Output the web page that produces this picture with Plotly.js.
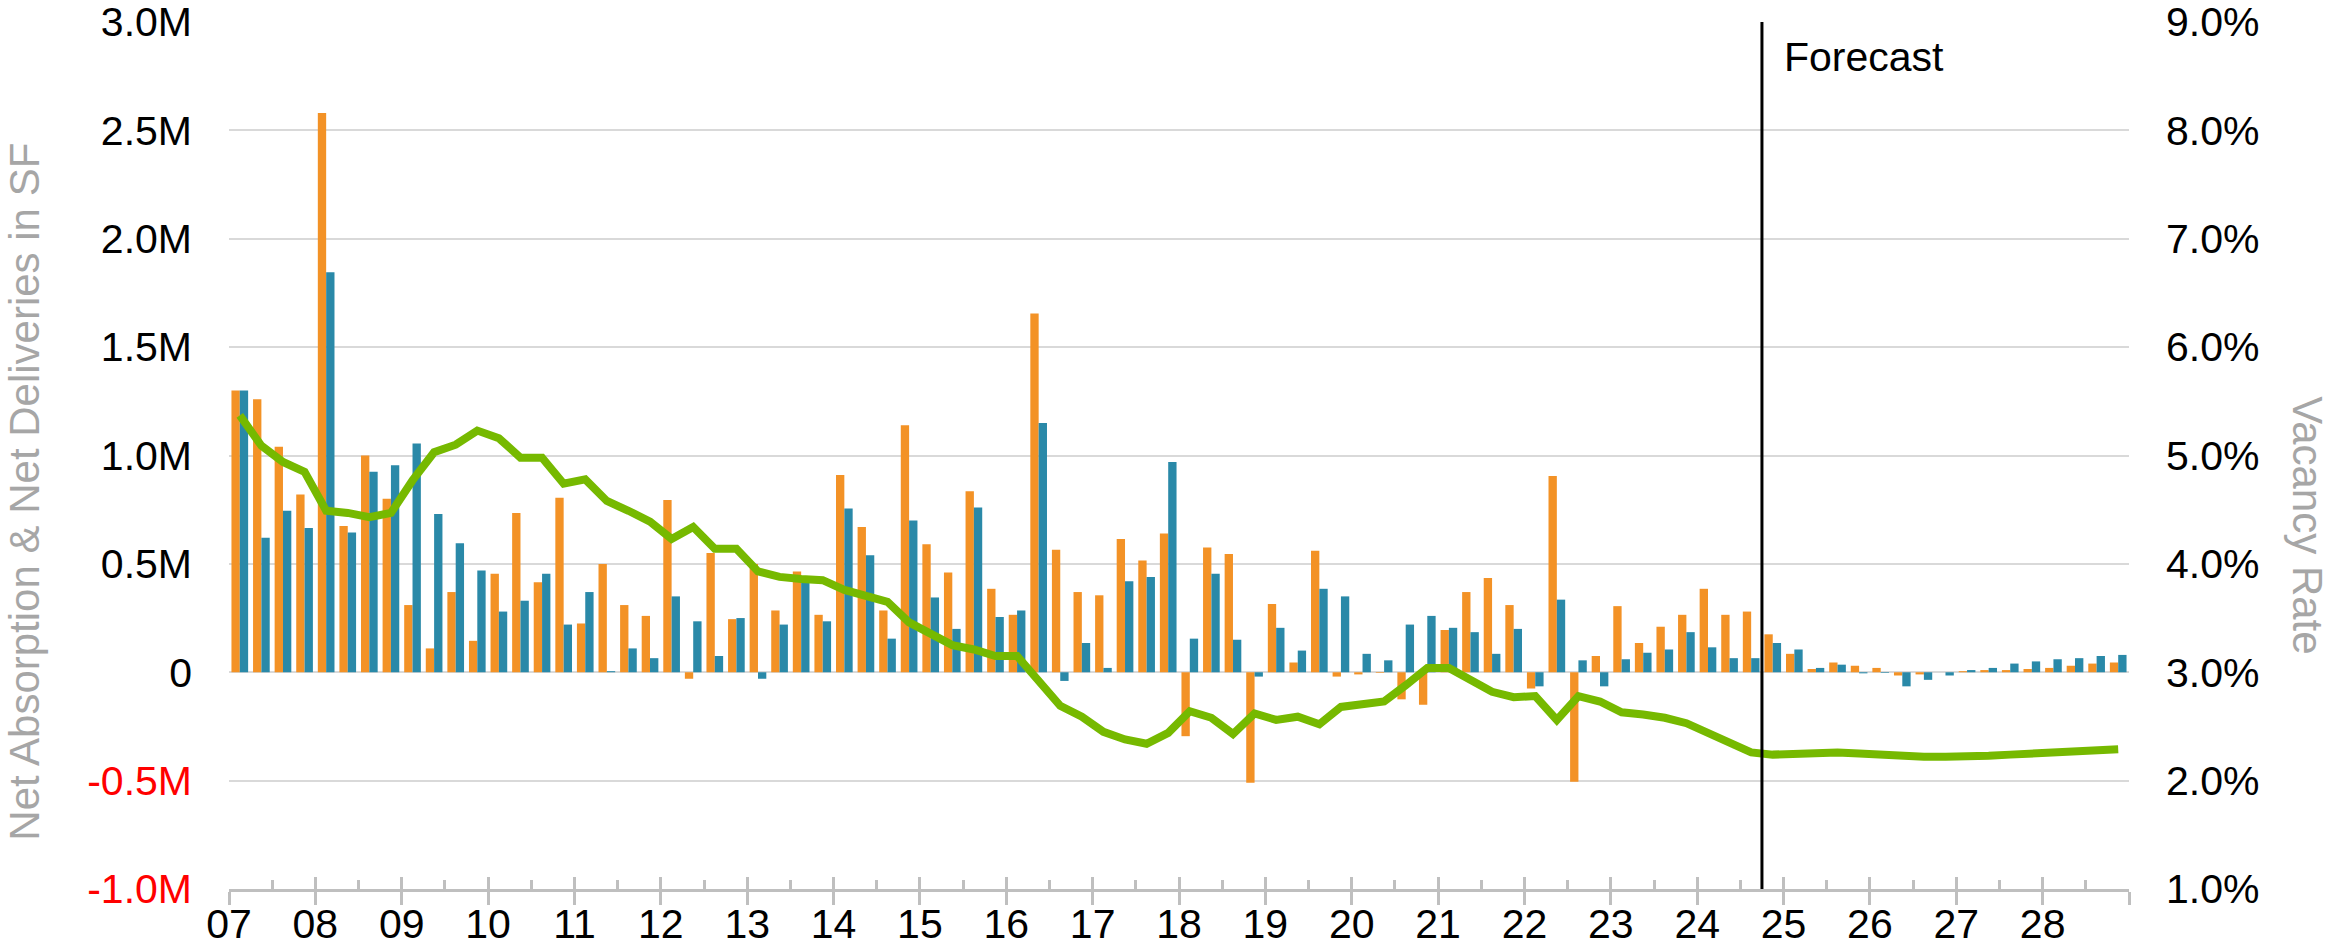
<!DOCTYPE html>
<html>
<head>
<meta charset="utf-8">
<script src="https://cdn.plot.ly/plotly-3.0.1.min.js"></script>
<style>
  html, body { margin: 0; padding: 0; background: #ffffff; }
  #chart { width: 2335px; height: 947px; }
</style>
</head>
<body>
<div id="chart"></div>
<script>
// ---- Data ----
const years = ['07','08','09','10','11','12','13','14','15','16','17','18','19','20','21','22','23','24','25','26','27','28'];
const quarterNames = ['Q1','Q2','Q3','Q4'];
const categories = years.flatMap(y => quarterNames.map(q => y + ' ' + q));
const forecastStart = '24 Q4';

// Net absorption (millions SF) - orange
const netAbsorption = [
  1.30, 1.26, 1.04, 0.82,
  2.58, 0.675, 1.00, 0.80,
  0.31, 0.11, 0.37, 0.145,
  0.455, 0.735, 0.415, 0.805,
  0.225, 0.50, 0.31, 0.26,
  0.795, -0.03, 0.55, 0.245,
  0.50, 0.285, 0.465, 0.265,
  0.91, 0.67, 0.285, 1.14,
  0.59, 0.46, 0.835, 0.385,
  0.265, 1.655, 0.565, 0.37,
  0.355, 0.615, 0.515, 0.64,
  -0.295, 0.575, 0.545, -0.51,
  0.315, 0.045, 0.56, -0.02,
  -0.01, -0.003, -0.125, -0.15,
  0.195, 0.37, 0.435, 0.31,
  -0.075, 0.905, -0.505, 0.075,
  0.305, 0.135, 0.21, 0.265,
  0.385, 0.265, 0.28, 0.175,
  0.085, 0.015, 0.045, 0.03,
  0.02, -0.015, -0.01, 0.0,
  0.005, 0.01, 0.01, 0.015,
  0.02, 0.03, 0.04, 0.045
];

// Net deliveries (millions SF) - blue
const netDeliveries = [
  1.30, 0.62, 0.745, 0.665,
  1.845, 0.645, 0.925, 0.955,
  1.055, 0.73, 0.595, 0.47,
  0.28, 0.33, 0.455, 0.22,
  0.37, 0.005, 0.11, 0.065,
  0.35, 0.235, 0.075, 0.25,
  -0.03, 0.22, 0.43, 0.235,
  0.755, 0.54, 0.155, 0.70,
  0.345, 0.20, 0.76, 0.255,
  0.285, 1.15, -0.04, 0.135,
  0.02, 0.42, 0.44, 0.97,
  0.155, 0.455, 0.15, -0.02,
  0.205, 0.10, 0.385, 0.35,
  0.085, 0.055, 0.22, 0.26,
  0.205, 0.185, 0.085, 0.20,
  -0.065, 0.335, 0.055, -0.065,
  0.06, 0.09, 0.105, 0.185,
  0.115, 0.065, 0.065, 0.135,
  0.105, 0.02, 0.035, -0.005,
  -0.003, -0.065, -0.035, -0.015,
  0.01, 0.02, 0.04, 0.05,
  0.06, 0.065, 0.075, 0.08
];

// Vacancy rate (%) - green line
const vacancyRate = [
  5.37, 5.09, 4.94, 4.85,
  4.49, 4.47, 4.43, 4.47,
  4.77, 5.03, 5.10, 5.23,
  5.16, 4.98, 4.98, 4.74,
  4.78, 4.58, 4.49, 4.39,
  4.23, 4.34, 4.14, 4.14,
  3.93, 3.88, 3.86, 3.85,
  3.76, 3.71, 3.65, 3.46,
  3.35, 3.25, 3.21, 3.15,
  3.15, 2.93, 2.69, 2.59,
  2.45, 2.38, 2.34, 2.44,
  2.64, 2.58, 2.43, 2.62,
  2.56, 2.59, 2.52, 2.68,
  2.71, 2.73, 2.88, 3.04,
  3.04, 2.94, 2.82, 2.77,
  2.78, 2.56, 2.78, 2.73,
  2.63, 2.61, 2.58, 2.53,
  2.44, 2.35, 2.26, 2.24,
  2.25, 2.26, 2.26, 2.25,
  2.24, 2.22, 2.22, 2.22,
  2.22, 2.23, 2.24, 2.25,
  2.26, 2.27, 2.28, 2.29
];

const leftTickVals = [-1, -0.5, 0, 0.5, 1, 1.5, 2, 2.5, 3];
const leftTickText = ['-1.0M', '-0.5M', '0', '0.5M', '1.0M', '1.5M', '2.0M', '2.5M', '3.0M'];
const rightTickVals = [1, 2, 3, 4, 5, 6, 7, 8, 9];
const rightTickText = ['1.0%', '2.0%', '3.0%', '4.0%', '5.0%', '6.0%', '7.0%', '8.0%', '9.0%'];

// ---- Build ----
const xIdx = categories.map((_, i) => i);
const nCat = categories.length;
const yearBoundaries = [];
for (let i = 0; i <= nCat; i += 4) yearBoundaries.push(i - 0.5);
const yearLabels = years.concat(['']);
const halfYearTicks = [];
for (let i = 2; i < nCat; i += 4) halfYearTicks.push(i - 0.5);
const forecastX = categories.indexOf(forecastStart) - 0.5;

const FONT = 'Liberation Sans, Arial, Helvetica, sans-serif';
const AXIS_GRAY = '#BFBFBF';

const traces = [
  {
    type: 'bar', name: 'Net Absorption', x: xIdx, y: netAbsorption,
    customdata: categories, hovertemplate: '%{customdata}: %{y}M<extra></extra>',
    textposition: 'none',
    marker: { color: '#F39226', line: { width: 0 } },
    xaxis: 'x', yaxis: 'y'
  },
  {
    type: 'bar', name: 'Net Deliveries', x: xIdx, y: netDeliveries,
    customdata: categories, hovertemplate: '%{customdata}: %{y}M<extra></extra>',
    textposition: 'none',
    marker: { color: '#2A89A8', line: { width: 0 } },
    xaxis: 'x', yaxis: 'y'
  },
  {
    type: 'scatter', mode: 'lines', name: 'Vacancy Rate', x: xIdx, y: vacancyRate,
    line: { color: '#76B900', width: 8, shape: 'linear' },
    xaxis: 'x2', yaxis: 'y2'
  }
];

const layout = {
  width: 2335, height: 947,
  margin: { l: 229, r: 206, t: 22, b: 58, pad: 0 },
  paper_bgcolor: '#ffffff', plot_bgcolor: '#ffffff',
  font: { family: FONT, size: 41, color: '#000000' },
  barmode: 'group', bargap: 0.228, bargroupgap: 0,
  showlegend: false,
  xaxis: {
    range: [-0.5, nCat - 0.5],
    tickmode: 'array', tickvals: yearBoundaries, ticktext: yearLabels,
    ticklabelshift: 10.8, ticklabelstandoff: -16, ticklabeloverflow: 'allow',
    ticks: 'outside', ticklen: 13, tickwidth: 3, tickcolor: AXIS_GRAY,
    minor: { tickmode: 'array', tickvals: halfYearTicks, ticks: 'inside', ticklen: 9, tickwidth: 3, tickcolor: AXIS_GRAY, showgrid: false },
    showline: true, linecolor: AXIS_GRAY, linewidth: 3,
    showgrid: false, zeroline: false,
    tickfont: { family: FONT, size: 41, color: '#000000' },
    fixedrange: true
  },
  xaxis2: {
    overlaying: 'x', anchor: 'y', side: 'bottom', matches: 'x',
    range: [-0.5, nCat - 0.5],
    tickmode: 'array', tickvals: yearBoundaries,
    ticks: 'inside', ticklen: 12, tickwidth: 3, tickcolor: AXIS_GRAY,
    showticklabels: false, showline: false, showgrid: false, zeroline: false,
    fixedrange: true
  },
  yaxis: {
    range: [-1, 3],
    tickmode: 'array', tickvals: leftTickVals,
    ticktext: leftTickText.map((t, i) => leftTickVals[i] < 0 ? '<span style="color:#FF0000">' + t + '</span>' : t),
    ticks: '', ticklabelstandoff: 36, ticklabeloverflow: 'allow',
    showgrid: true, gridcolor: '#D9D9D9', gridwidth: 2,
    zeroline: false, showline: false,
    tickfont: { family: FONT, size: 41, color: '#000000' },
    fixedrange: true
  },
  yaxis2: {
    overlaying: 'y', side: 'right', anchor: 'x',
    range: [1, 9],
    tickmode: 'array', tickvals: rightTickVals, ticktext: rightTickText,
    ticks: '', ticklabelstandoff: 36, ticklabeloverflow: 'allow',
    showgrid: false, zeroline: false, showline: false,
    tickfont: { family: FONT, size: 41, color: '#000000' },
    fixedrange: true
  },
  shapes: [
    {
      type: 'line', layer: 'above', xref: 'x', yref: 'paper',
      x0: forecastX, x1: forecastX, y0: 0, y1: 1,
      line: { color: '#000000', width: 3 }
    }
  ],
  annotations: [
    {
      text: 'Forecast', xref: 'x', yref: 'paper', x: forecastX, y: 1,
      xanchor: 'left', yanchor: 'top', xshift: 20, yshift: -10,
      showarrow: false, font: { family: FONT, size: 41, color: '#000000' }
    },
    {
      text: 'Net Absorption &amp; Net Deliveries in SF', xref: 'paper', yref: 'paper',
      x: -0.1075, y: 0.458, xanchor: 'center', yanchor: 'middle', textangle: -90,
      showarrow: false, font: { family: FONT, size: 42, color: '#A6A6A6' }
    },
    {
      text: 'Vacancy Rate', xref: 'paper', yref: 'paper',
      x: 1.094, y: 0.42, xanchor: 'center', yanchor: 'middle', textangle: 90,
      showarrow: false, font: { family: FONT, size: 42, color: '#A6A6A6' }
    }
  ]
};

Plotly.newPlot('chart', traces, layout, { displayModeBar: false, staticPlot: true });
</script>
</body>
</html>
